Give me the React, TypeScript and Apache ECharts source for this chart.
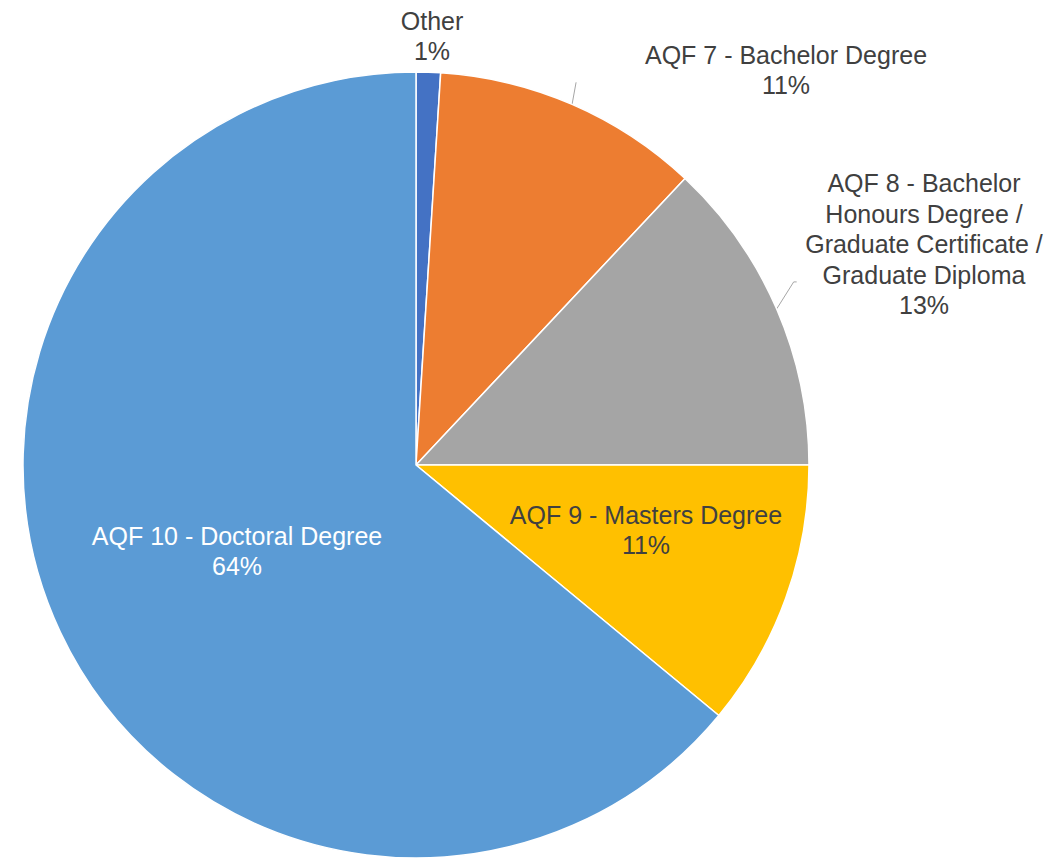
import React, { useEffect, useRef } from 'react';
import * as echarts from 'echarts';

const categories = [
  'Other',
  'AQF 7 - Bachelor Degree',
  'AQF 8 - Bachelor Honours Degree / Graduate Certificate / Graduate Diploma',
  'AQF 9 - Masters Degree',
  'AQF 10 - Doctoral Degree',
];
const labelTexts = [
  'Other',
  'AQF 7 - Bachelor Degree',
  'AQF 8 - Bachelor\nHonours Degree /\nGraduate Certificate /\nGraduate Diploma',
  'AQF 9 - Masters Degree',
  'AQF 10 - Doctoral Degree',
];
const shares = [1, 11, 13, 11, 64];
const colors = ['#4472C4', '#ED7D31', '#A5A5A5', '#FFC000', '#5B9BD5'];
const labelColors = ['#404040', '#404040', '#404040', '#404040', '#FFFFFF'];
const labelCenters = [
  [432, 36],
  [786, 70],
  [924, 244],
  [646, 530],
  [237, 551],
];
const outsideLabel = [true, true, true, false, false];
const showLeader = [false, true, true, false, false];
// leader line offsets (dx, dy) from the slice edge, and final horizontal tail
const leaderOffsets = [
  [0, 0, 0],
  [4, -22, 0],
  [17, -27, 3],
  [0, 0, 0],
  [0, 0, 0],
];

const CX = 416;
const CY = 465;
const R = 393;

function leaderPoints(i: number): number[][] {
  const total = shares.reduce((a, b) => a + b, 0);
  let cum = 0;
  for (let k = 0; k < i; k++) cum += shares[k];
  const theta = ((cum + shares[i] / 2) / total) * Math.PI * 2;
  const p0 = [CX + R * Math.sin(theta), CY - R * Math.cos(theta)];
  const p1 = [p0[0] + leaderOffsets[i][0], p0[1] + leaderOffsets[i][1]];
  const p2 = [p1[0] + leaderOffsets[i][2], p1[1]];
  return [p0, p1, p2];
}

export default function App() {
  const ref = useRef<HTMLDivElement>(null);
  useEffect(() => {
    if (!ref.current) return;
    const chart = echarts.init(ref.current, undefined, { renderer: 'svg' });
    chart.setOption({
      animation: false,
      backgroundColor: '#FFFFFF',
      series: [
        {
          type: 'pie',
          center: [CX, CY],
          radius: R,
          startAngle: 90,
          clockwise: true,
          percentPrecision: 0,
          itemStyle: { borderColor: '#FFFFFF', borderWidth: 1.5 },
          label: {
            fontFamily: 'Liberation Sans, Arial, sans-serif',
            fontSize: 25,
            lineHeight: 30.5,
            align: 'center',
            formatter: (p: any) => labelTexts[p.dataIndex] + '\n' + Math.round(p.percent) + '%',
          },
          labelLine: {
            length: 23,
            length2: 3,
            smooth: false,
            lineStyle: { color: '#A6A6A6', width: 1 },
          },
          labelLayout: (params: any) => {
            const i = params.dataIndex;
            const out: any = {
              x: labelCenters[i][0],
              y: labelCenters[i][1],
              align: 'center',
              verticalAlign: 'middle',
            };
            if (showLeader[i]) out.labelLinePoints = leaderPoints(i);
            return out;
          },
          emphasis: { disabled: true },
          data: categories.map((name, i) => ({
            name,
            value: shares[i],
            itemStyle: { color: colors[i] },
            label: {
              position: outsideLabel[i] ? 'outside' : 'inside',
              color: labelColors[i],
            },
            labelLine: { show: showLeader[i] },
          })),
        },
      ],
    });
    return () => chart.dispose();
  }, []);
  return (
    <div
      ref={ref}
      style={{ position: 'fixed', left: 0, top: 0, width: 1053, height: 858 }}
    />
  );
}
